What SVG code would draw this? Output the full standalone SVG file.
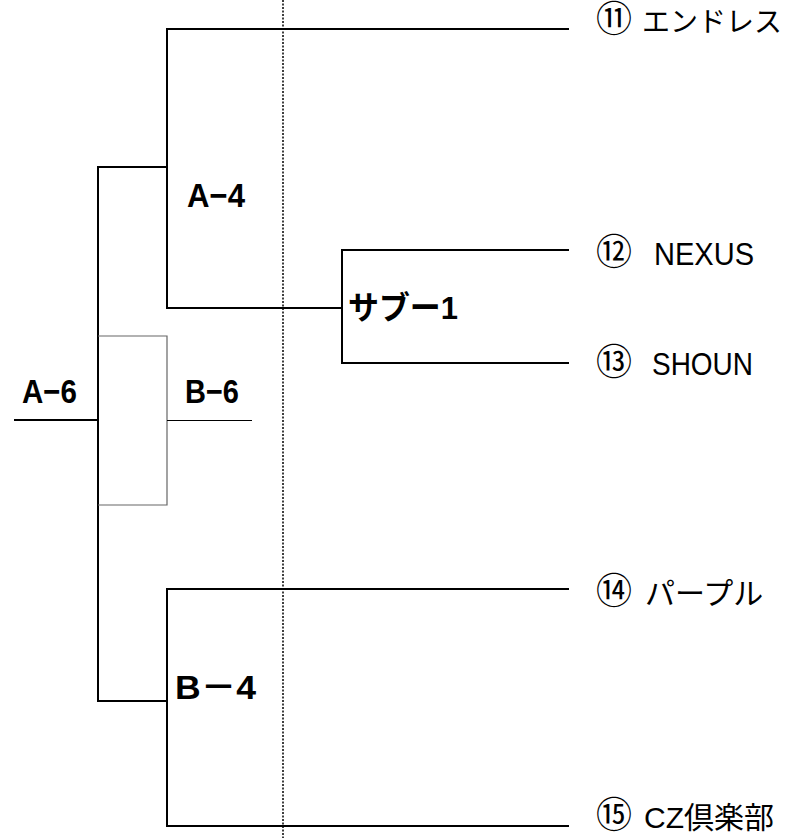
<svg xmlns="http://www.w3.org/2000/svg" width="798" height="838" viewBox="0 0 798 838">
<style>
.ln{stroke:#000;stroke-width:2;fill:none;stroke-linecap:square}
.thin{stroke:#000;stroke-width:1;fill:none}
.gray{stroke:#666;stroke-width:1.2;fill:none}
.dot{stroke:#000;stroke-width:1.5;stroke-dasharray:2 1.5;fill:none}
.lbl{font-family:"Liberation Sans","Noto Sans CJK JP",sans-serif;font-weight:bold;font-size:34px;fill:#000}
.team{font-family:"Liberation Sans","Noto Sans CJK JP",sans-serif;font-size:30px;fill:#000}
.circ{font-family:"Noto Sans CJK JP",sans-serif;font-size:36px}
</style>
<rect width="798" height="838" fill="#fff"/>
<g id="connectors">
<line class="dot" x1="283" y1="0" x2="283" y2="838"/>
<polyline class="ln" points="568,29 167,29 167,308 342,308"/>
<line class="ln" x1="98" y1="167" x2="167" y2="167"/>
<polyline class="ln" points="568,250 342,250 342,363 568,363"/>
<line class="ln" x1="98" y1="167" x2="98" y2="701"/>
<line class="ln" x1="15" y1="420" x2="98" y2="420"/>
<polyline class="gray" points="98,336 167,336 167,505 98,505"/>
<line class="thin" x1="167" y1="420.5" x2="252" y2="420.5"/>
<line class="ln" x1="98" y1="701" x2="167" y2="701"/>
<polyline class="ln" points="568,589 167,589 167,826 568,826"/>
</g>
<g id="node-a6"><text class="lbl" x="22" y="403" textLength="55" lengthAdjust="spacingAndGlyphs">A−6</text></g>
<g id="node-a4"><text class="lbl" x="187" y="207" textLength="58" lengthAdjust="spacingAndGlyphs">A−4</text></g>
<g id="node-b6"><text class="lbl" x="185" y="403" textLength="54" lengthAdjust="spacingAndGlyphs">B−6</text></g>
<g id="node-sub1"><text class="lbl" x="348" y="319" style="font-size:32px" textLength="110" lengthAdjust="spacingAndGlyphs">サブー1</text></g>
<g id="node-b4"><text class="lbl" x="175" y="699" textLength="81" lengthAdjust="spacingAndGlyphs">B－4</text></g>
<g id="team-11"><text class="team" x="596" y="32"><tspan class="circ">⑪</tspan> <tspan x="642" style="font-size:28px">エンドレス</tspan></text></g>
<g id="team-12"><text class="team" x="596" y="265"><tspan class="circ">⑫</tspan> <tspan x="654" style="font-size:31px" textLength="100" lengthAdjust="spacingAndGlyphs">NEXUS</tspan></text></g>
<g id="team-13"><text class="team" x="596" y="375"><tspan class="circ">⑬</tspan> <tspan x="652" style="font-size:31px" textLength="101" lengthAdjust="spacingAndGlyphs">SHOUN</tspan></text></g>
<g id="team-14"><text class="team" x="596" y="604"><tspan class="circ">⑭</tspan> <tspan x="645" style="font-size:30px">パープル</tspan></text></g>
<g id="team-15"><text class="team" x="596" y="828"><tspan class="circ">⑮</tspan> <tspan x="644">CZ倶楽部</tspan></text></g>
</svg>
